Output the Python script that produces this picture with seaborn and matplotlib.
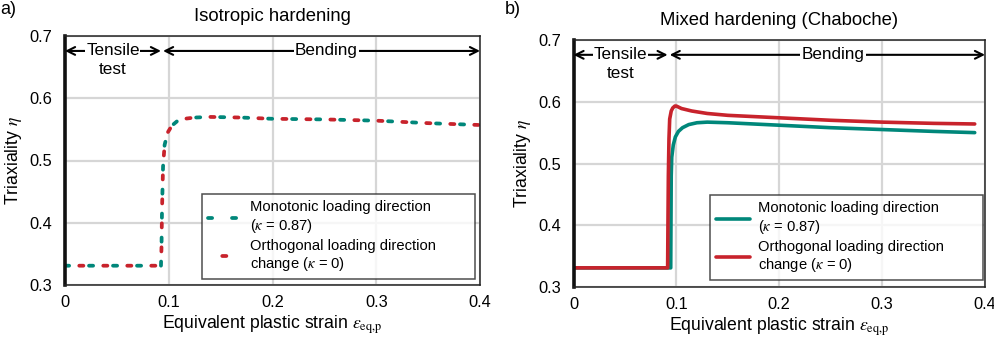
import numpy as np
import pandas as pd
import matplotlib
matplotlib.use("Agg")
import matplotlib.pyplot as plt
import seaborn as sns

# ---------------- data ----------------
# Panel a: isotropic hardening
iso_mono_x = [0, 0.0925, 0.093, 0.0935, 0.0945, 0.096, 0.099, 0.103, 0.108, 0.115,
              0.125, 0.14, 0.17, 0.2, 0.25, 0.3, 0.35, 0.4]
iso_mono_y = [0.331, 0.331, 0.36, 0.42, 0.49, 0.525, 0.545, 0.556, 0.563, 0.567,
              0.569, 0.570, 0.569, 0.567, 0.566, 0.564, 0.560, 0.557]
iso_orth_x = [0, 0.0925, 0.093, 0.0935, 0.0945, 0.096, 0.099, 0.103, 0.108, 0.115,
              0.125, 0.14, 0.17, 0.2, 0.25, 0.3, 0.35, 0.4]
iso_orth_y = [0.331, 0.331, 0.36, 0.42, 0.49, 0.525, 0.545, 0.556, 0.563, 0.567,
              0.569, 0.570, 0.569, 0.567, 0.566, 0.564, 0.560, 0.557]

# Panel b: mixed hardening (Chaboche)
mix_mono_x = [0, 0.0945, 0.0948, 0.095, 0.0955, 0.097, 0.099, 0.102, 0.106, 0.112,
              0.12, 0.13, 0.15, 0.2, 0.25, 0.3, 0.35, 0.39]
mix_mono_y = [0.331, 0.331, 0.42, 0.48, 0.51, 0.53, 0.543, 0.552, 0.558, 0.563,
              0.566, 0.567, 0.566, 0.562, 0.558, 0.555, 0.552, 0.550]
mix_orth_x = [0, 0.0915, 0.0918, 0.0922, 0.0928, 0.0935, 0.095, 0.0965, 0.0985, 0.1,
              0.105, 0.115, 0.13, 0.15, 0.2, 0.25, 0.3, 0.35, 0.39]
mix_orth_y = [0.331, 0.331, 0.40, 0.48, 0.54, 0.572, 0.585, 0.590, 0.593, 0.593,
              0.589, 0.585, 0.581, 0.578, 0.574, 0.570, 0.567, 0.565, 0.564]

x_ticks = [0, 0.1, 0.2, 0.3, 0.4]
x_tick_labels = ["0", "0.1", "0.2", "0.3", "0.4"]
y_ticks = [0.3, 0.4, 0.5, 0.6, 0.7]
y_tick_labels = ["0.3", "0.4", "0.5", "0.6", "0.7"]

titles = ["Isotropic hardening", "Mixed hardening (Chaboche)"]
panel_labels = ["a)", "b)"]
legend_labels = ["Monotonic loading direction\n($\\kappa$ = 0.87)",
                 "Orthogonal loading direction\nchange ($\\kappa$ = 0)"]
tensile_split = 0.0925
tensile_split_b = 0.0915

TEAL = "#00877A"
RED = "#C8232C"

# ---------------- style ----------------
sns.set_style("white")
plt.rcParams["font.family"] = ["Liberation Sans", "DejaVu Sans"]
plt.rcParams["mathtext.fontset"] = "stix"
plt.rcParams["text.color"] = "black"
plt.rcParams["axes.labelcolor"] = "black"
plt.rcParams["xtick.color"] = "black"
plt.rcParams["ytick.color"] = "black"

fig = plt.figure(figsize=(9.94, 3.41), dpi=100)
ax_a = fig.add_axes([65 / 994, 1 - 285 / 341, 415 / 994, 249 / 341])
ax_b = fig.add_axes([573.5 / 994, 1 - 287 / 341, 411.5 / 994, 247 / 341])

# panel a: dashed lines (alternating colours)
sns.lineplot(x=iso_mono_x, y=iso_mono_y, ax=ax_a, sort=False, estimator=None,
             color=TEAL, lw=2.7, linestyle=(0, (1.1, 5.3)), dash_capstyle="round",
             label=legend_labels[0])
sns.lineplot(x=iso_orth_x, y=iso_orth_y, ax=ax_a, sort=False, estimator=None,
             color=RED, lw=2.7, linestyle=(2.6, (1.1, 5.3)), dash_capstyle="round",
             label=legend_labels[1])

# panel b: solid lines
sns.lineplot(x=mix_mono_x, y=mix_mono_y, ax=ax_b, sort=False, estimator=None,
             color=TEAL, lw=2.6, label=legend_labels[0])
sns.lineplot(x=mix_orth_x, y=mix_orth_y, ax=ax_b, sort=False, estimator=None,
             color=RED, lw=2.6, label=legend_labels[1])

legend_boxes = [(0.330, 0.024, 0.658, 0.5), (0.332, 0.028, 0.663, 0.5)]

for i, (ax, split) in enumerate([(ax_a, tensile_split), (ax_b, tensile_split_b)]):
    ax.set_xlim(0, 0.4)
    ax.set_ylim(0.3, 0.7)
    ax.set_xticks(x_ticks)
    ax.set_xticklabels(x_tick_labels)
    ax.set_yticks(y_ticks)
    ax.set_yticklabels(y_tick_labels)
    ax.tick_params(axis="both", length=0, labelsize=11.8, colors="black")
    ax.tick_params(axis="y", pad=9)
    ax.tick_params(axis="x", pad=7)
    ax.grid(True, color="#d6d6d6", lw=1.6)
    ax.set_axisbelow(True)
    for side in ["top", "right", "bottom"]:
        ax.spines[side].set_color("#222222")
        ax.spines[side].set_linewidth(1.1)
    ax.spines["left"].set_color("#111111")
    ax.spines["left"].set_linewidth(2.6)
    ax.set_xlabel(r"Equivalent plastic strain $\varepsilon_{\mathrm{eq{,}p}}$", fontsize=12.7, labelpad=3)
    ax.set_ylabel(r"Triaxiality $\eta$", fontsize=12.7, labelpad=4)
    ax.set_title(titles[i], fontsize=13.3, pad=11)

    # arrows
    ya = 0.676
    ax.annotate("", xy=(0.0, ya), xytext=(split, ya),
                arrowprops=dict(arrowstyle="<->", lw=1.5, color="black",
                                shrinkA=0, shrinkB=0, mutation_scale=14))
    ax.annotate("", xy=(split + 0.002, ya), xytext=(0.4, ya),
                arrowprops=dict(arrowstyle="<->", lw=1.5, color="black",
                                shrinkA=0, shrinkB=0, mutation_scale=14))
    ax.text(split / 2, ya, "Tensile", ha="center", va="center", fontsize=12.3,
            bbox=dict(facecolor="white", edgecolor="none", pad=0.5))
    ax.text(split / 2, 0.646, "test", ha="center", va="center", fontsize=12.3)
    ax.text(0.252, ya, "Bending", ha="center", va="center", fontsize=12.3,
            bbox=dict(facecolor="white", edgecolor="none", pad=1.0))

    leg = ax.legend(loc="lower left", bbox_to_anchor=legend_boxes[i], mode="expand",
                    borderaxespad=0, fontsize=10.6, frameon=True, fancybox=False,
                    edgecolor="#222222", handlelength=2.3, handletextpad=0.55,
                    labelspacing=0.25, borderpad=0.4, labelcolor="black")
    leg.get_frame().set_linewidth(1.1)

fig.text(0 / 994, 1 - 10 / 341, panel_labels[0], fontsize=13, ha="left", va="center")
fig.text(505 / 994, 1 - 10 / 341, panel_labels[1], fontsize=13, ha="left", va="center")

fig.savefig("out.png", dpi=100)
